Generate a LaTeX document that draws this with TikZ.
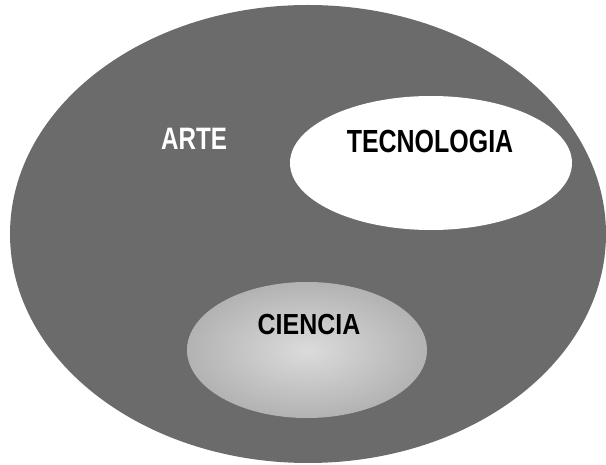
\documentclass[tikz,border=0pt]{standalone}
\usepackage{fontspec}
\setmainfont{Liberation Sans}
\begin{document}
\begin{tikzpicture}[x=1pt,y=-1pt,
  lbl/.style={anchor=base, inner sep=0pt}]
\useasboundingbox (0,0) rectangle (606,465);
% outer region (ARTE)
\fill[black!58] (308,234) ellipse [x radius=298, y radius=229];
% TECNOLOGIA region
\fill[white] (431,163) ellipse [x radius=141, y radius=67];
% CIENCIA region
\shade[inner color=black!14, outer color=black!30] (307,350) ellipse [x radius=120, y radius=68];
% labels
\node[lbl, text=black, xscale=0.78, font=\fontsize{32}{32}\selectfont\bfseries] (tec) at (430,153) {TECNOLOGIA};
\node[lbl, text=white, xscale=0.78, font=\fontsize{31}{31}\selectfont\bfseries] (arte) at (194,150) {ARTE};
\node[lbl, text=black, xscale=0.86, font=\fontsize{29}{29}\selectfont\bfseries] (cie) at (309,335) {CIENCIA};
\end{tikzpicture}
\end{document}
